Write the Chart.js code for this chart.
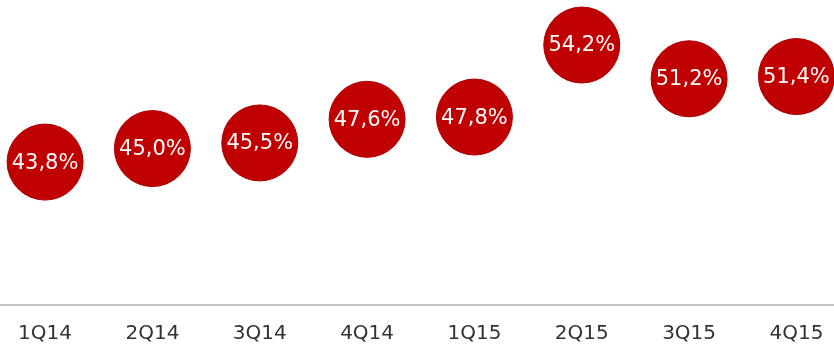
<!DOCTYPE html>
<html>
<head>
<meta charset="utf-8">
<script src="https://cdn.jsdelivr.net/npm/chart.js@4"></script>
<style>
  html, body { margin: 0; padding: 0; background: #fff; }
  #wrap { width: 834px; height: 351px; }
</style>
</head>
<body>
<div id="wrap"><canvas id="shareChart"></canvas></div>
<script>
const quarters = ['1Q14', '2Q14', '3Q14', '4Q14', '1Q15', '2Q15', '3Q15', '4Q15'];
const shares = [43.8, 45.0, 45.5, 47.6, 47.8, 54.2, 51.2, 51.4];

const fmtPct = v => v.toFixed(1).replace('.', ',') + '%';

// writes the value inside each circle
const bubbleLabels = {
  id: 'bubbleLabels',
  afterDatasetsDraw(chart) {
    const ctx = chart.ctx;
    const meta = chart.getDatasetMeta(0);
    ctx.save();
    ctx.font = '21px "DejaVu Sans"';
    ctx.fillStyle = '#ffffff';
    ctx.textAlign = 'center';
    ctx.textBaseline = 'middle';
    meta.data.forEach((pt, i) => {
      ctx.fillText(fmtPct(shares[i]), pt.x, pt.y + 1);
    });
    ctx.restore();
  }
};

new Chart(document.getElementById('shareChart'), {
  type: 'scatter',
  data: {
    datasets: [{
      data: shares.map((v, i) => ({ x: i, y: v })),
      pointRadius: 38,
      pointHoverRadius: 38,
      backgroundColor: '#c00000',
      borderColor: '#a80000',
      borderWidth: 1,
      clip: false
    }]
  },
  options: {
    responsive: true, maintainAspectRatio: false,
    animation: false,
    events: [],
    layout: { padding: 0, autoPadding: false },
    plugins: { legend: { display: false }, tooltip: { enabled: false } },
    scales: {
      x: {
        type: 'linear', min: -0.42, max: 7.35,
        grid: { display: false, drawTicks: false },
        border: { display: true, color: '#c4c4c4', width: 2 },
        afterBuildTicks: s => { s.ticks = quarters.map((q, i) => ({ value: i })); },
        afterFit: s => { s.height = 46; s.paddingLeft = 0; s.paddingRight = 0; },
        ticks: {
          autoSkip: false, maxRotation: 0, padding: 17,
          color: '#333333',
          font: { family: 'DejaVu Sans', size: 20 },
          callback: v => quarters[v]
        }
      },
      y: {
        display: false, min: 31.1, max: 58.2
      }
    }
  },
  plugins: [bubbleLabels]
});
</script>
</body>
</html>
